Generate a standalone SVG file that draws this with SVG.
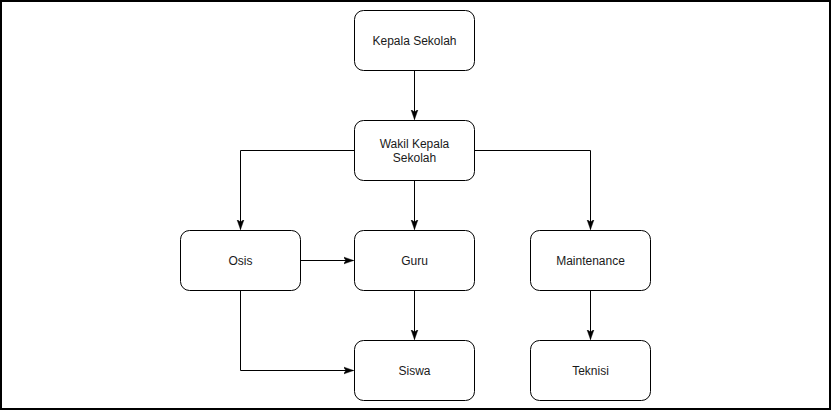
<svg xmlns="http://www.w3.org/2000/svg" width="831" height="411" viewBox="0 0 831 411">
<style>
.node rect{fill:#fff;stroke:#000;stroke-width:1}
.node text{font-family:"Liberation Sans",Arial,sans-serif;font-size:12px;fill:#1a1a1a;text-anchor:middle}
.edge{fill:none;stroke:#000;stroke-width:1}
</style>
<defs>
<marker id="arr" markerUnits="userSpaceOnUse" markerWidth="10" markerHeight="10" viewBox="0 0 10 10" refX="10" refY="5" orient="auto">
<path d="M0,1.5 L10,5 L0,8.5 L2.5,5 Z" fill="#000" stroke="#000" stroke-width="0.5"/>
</marker>
</defs>
<rect x="1" y="1" width="829" height="408" fill="#fff" stroke="#000" stroke-width="2"/>
<g id="connectors">
<path class="edge" d="M414.5,70.5 V119.5" marker-end="url(#arr)"/>
<path class="edge" d="M354.5,150.5 H240.5 V229.5" marker-end="url(#arr)"/>
<path class="edge" d="M414.5,180.5 V229.5" marker-end="url(#arr)"/>
<path class="edge" d="M474.5,150.5 H590.5 V229.5" marker-end="url(#arr)"/>
<path class="edge" d="M300.5,260.5 H353.5" marker-end="url(#arr)"/>
<path class="edge" d="M414.5,290.5 V339.5" marker-end="url(#arr)"/>
<path class="edge" d="M240.5,290.5 V370.5 H353.5" marker-end="url(#arr)"/>
<path class="edge" d="M590.5,290.5 V339.5" marker-end="url(#arr)"/>
</g>
<g id="kepala" class="node"><rect x="354.5" y="10.5" width="120" height="60" rx="9"/><text x="414.5" y="44.5">Kepala Sekolah</text></g>
<g id="wakil" class="node"><rect x="354.5" y="120.5" width="120" height="60" rx="9"/><text x="414.5" y="147.5">Wakil Kepala</text><text x="414.5" y="161.5">Sekolah</text></g>
<g id="osis" class="node"><rect x="180.5" y="230.5" width="120" height="60" rx="9"/><text x="240.5" y="264.5">Osis</text></g>
<g id="guru" class="node"><rect x="354.5" y="230.5" width="120" height="60" rx="9"/><text x="414.5" y="264.5">Guru</text></g>
<g id="maintenance" class="node"><rect x="530.5" y="230.5" width="120" height="60" rx="9"/><text x="590.5" y="264.5">Maintenance</text></g>
<g id="siswa" class="node"><rect x="354.5" y="340.5" width="120" height="60" rx="9"/><text x="414.5" y="374.5">Siswa</text></g>
<g id="teknisi" class="node"><rect x="530.5" y="340.5" width="120" height="60" rx="9"/><text x="590.5" y="374.5">Teknisi</text></g>
</svg>
